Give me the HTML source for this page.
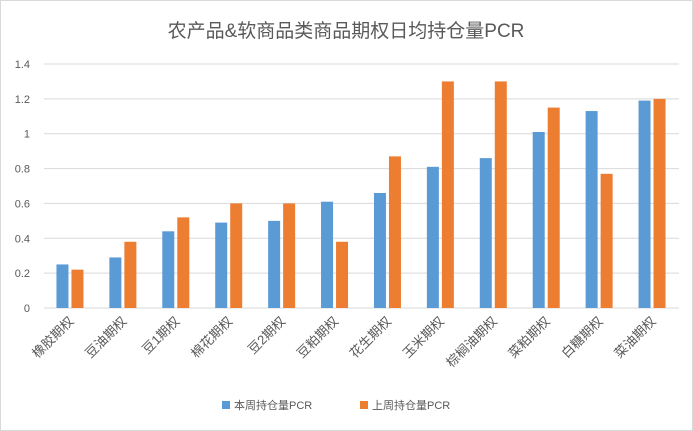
<!DOCTYPE html>
<html><head><meta charset="utf-8"><style>
body{margin:0;background:#fff;}
svg{display:block;font-family:"Liberation Sans","Noto Sans CJK SC",sans-serif;}
</style></head><body>
<svg id="chart" width="693" height="431">
<rect x="0.5" y="0.5" width="692" height="430" fill="#fff" stroke="#d9d9d9"/>
<text x="346" y="37" text-anchor="middle" font-size="19" fill="#595959">农产品&amp;软商品类商品期权日均持仓量PCR</text>
<g id="grid"></g><g id="bars"></g><g id="xlabels"></g><g id="ylabels"></g>
<g>
<rect x="222" y="401" width="8" height="8" fill="#5b9bd5"/>
<text x="234" y="409" font-size="11" fill="#595959">本周持仓量PCR</text>
<rect x="360" y="401" width="8" height="8" fill="#ed7d31"/>
<text x="372" y="409" font-size="11" fill="#595959">上周持仓量PCR</text>
</g>
</svg>
<script>
const categories=["橡胶期权","豆油期权","豆1期权","棉花期权","豆2期权","豆粕期权","花生期权","玉米期权","棕榈油期权","菜粕期权","白糖期权","菜油期权"];
const thisWeek=[0.25,0.29,0.44,0.49,0.50,0.61,0.66,0.81,0.86,1.01,1.13,1.19];
const lastWeek=[0.22,0.38,0.52,0.60,0.60,0.38,0.87,1.30,1.30,1.15,0.77,1.20];
const yTicks=[0,0.2,0.4,0.6,0.8,1,1.2,1.4];
const yTickLabels=["0","0.2","0.4","0.6","0.8","1","1.2","1.4"];
const NS="http://www.w3.org/2000/svg";
const x0=44,x1=679,y0=308,yTop=64,yMax=1.4;
const y=v=>y0-(v/yMax)*(y0-yTop);
const bw=(x1-x0)/categories.length;
function mk(t,a,p){const e=document.createElementNS(NS,t);for(const k in a)e.setAttribute(k,a[k]);document.getElementById(p).appendChild(e);return e;}
yTicks.forEach((v,i)=>{
 const l=mk('line',{x1:x0,x2:x1,y1:y(v),y2:y(v),stroke:"#d9d9d9","stroke-width":1},'grid');
 
 
 const t=mk('text',{x:30,y:y(v)+4,"text-anchor":"end","font-size":11,fill:"#595959"},'ylabels');
 t.textContent=yTickLabels[i];
 
 
});
categories.forEach((c,i)=>{
 const cx=x0+bw*(i+0.5);
 const b1=mk('rect',{x:cx-14,y:y(thisWeek[i]),width:12,height:y0-y(thisWeek[i]),fill:"#5b9bd5"},'bars');
 
 
 const b2=mk('rect',{x:cx+1,y:y(lastWeek[i]),width:12,height:y0-y(lastWeek[i]),fill:"#ed7d31"},'bars');
 
 
 const t=mk('text',{x:cx+4,y:y0+14,"text-anchor":"end","font-size":13,fill:"#595959",transform:`rotate(-45 ${cx+4} ${y0+14})`},'xlabels');
 t.textContent=c;
 
 
});
</script>
</body></html>
